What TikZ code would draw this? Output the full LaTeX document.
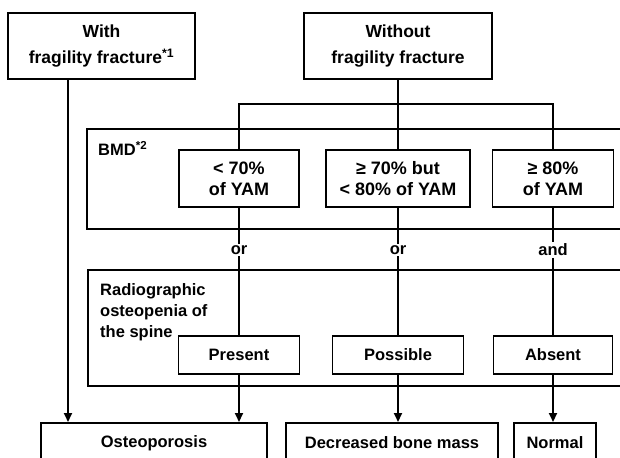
\documentclass[tikz,border=0pt]{standalone}
\usepackage{fontspec}
\setmainfont{Liberation Sans}
\usetikzlibrary{arrows.meta}

\tikzset{
    txt/.style={font=\bfseries\fontsize{16.5}{21}\selectfont},
    box/.style={txt, draw, line width=1.6pt, inner sep=0pt, align=center},
    topbox/.style={box, font=\bfseries\fontsize{17.5}{26}\selectfont},
    pctbox/.style={box, font=\bfseries\fontsize{18}{21}\selectfont},
    panel/.style={draw, line width=1.6pt, inner sep=0pt, anchor=north west},
    link/.style={line width=2pt},
    arr/.style={line width=2pt, -{Triangle[length=9pt,width=8pt]}},
    joint/.style={txt, inner sep=1.5pt}
}

\begin{document}
\begin{tikzpicture}[x=1pt,y=-1pt]

        \useasboundingbox (0,0) rectangle (620,457);
        \clip (0,0) rectangle (620,457);

        \node[topbox, minimum width=187, minimum height=66] (with) at (101.5,46) {With\\fragility fracture\textsuperscript{*1}};
        \node[topbox, minimum width=188, minimum height=66] (without) at (398,46) {Without\\fragility fracture};

        \node[panel, minimum width=539, minimum height=100] (bmd) at (86,128) {};
        \node[txt, anchor=north west, inner sep=0pt] (bmdlabel) at (98,141) {BMD\textsuperscript{*2}};
        \node[pctbox, minimum width=120, minimum height=57] (lt70) at (239,178.5) {< 70\%\\of YAM};
        \node[pctbox, minimum width=144, minimum height=57] (mid70) at (398,178.5) {≥ 70\% but\\< 80\% of YAM};
        \node[pctbox, minimum width=121, minimum height=57] (ge80) at (553,178.5) {≥ 80\%\\of YAM};

        \coordinate (fork) at (398,104);
        \draw[link] (without.south) -- (fork);
        \draw[link] (lt70.north) |- (fork) -| (ge80.north);
        \draw[link] (fork) -- (mid70.north);

        \node[joint] (or1) at (239,250) {or};
        \node[joint] (or2) at (398,250) {or};
        \node[joint] (and1) at (553,250) {and};

        \node[panel, minimum width=538, minimum height=116] (radio) at (87,269) {};
        \node[txt, anchor=north west, inner sep=0pt, align=left] (radiolabel) at (100,283) {Radiographic\\osteopenia of\\the spine};
        \node[box, minimum width=121, minimum height=38] (present) at (239,355) {Present};
        \node[box, minimum width=131, minimum height=38] (possible) at (398,355) {Possible};
        \node[box, minimum width=119, minimum height=38] (absent) at (553,355) {Absent};

        \draw[link] (lt70.south) -- (or1) -- (present.north);
        \draw[link] (mid70.south) -- (or2) -- (possible.north);
        \draw[link] (ge80.south) -- (and1) -- (absent.north);

        \node[box, minimum width=226, minimum height=40, anchor=north] (osteo) at (154,422) {Osteoporosis};
        \node[box, minimum width=212, minimum height=40, anchor=north] (decreased) at (392,422) {Decreased bone mass};
        \node[box, minimum width=82, minimum height=40, anchor=north] (normal) at (555,422) {Normal};

        \coordinate (withfoot) at (68,79);
        \draw[arr] (withfoot) -- (withfoot |- osteo.north);
        \draw[arr] (present.south) -- (present.south |- osteo.north);
        \draw[arr] (possible.south) -- (possible.south |- decreased.north);
        \draw[arr] (absent.south) -- (absent.south |- normal.north);

\end{tikzpicture}
\end{document}
